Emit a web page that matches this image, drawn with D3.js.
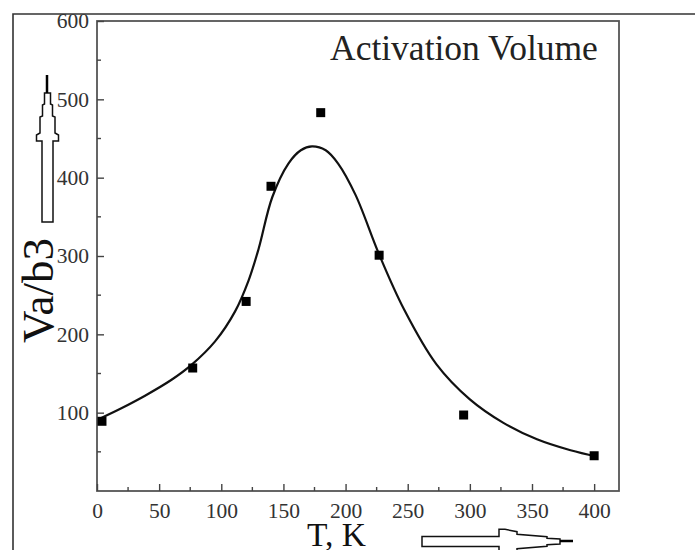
<!DOCTYPE html>
<html>
<head>
<meta charset="utf-8">
<script src="https://cdn.jsdelivr.net/npm/d3@7"></script>
<style>
  html, body { margin: 0; padding: 0; background: #fff; }
  svg { display: block; }
  text { font-family: "Liberation Serif", "Times New Roman", serif; }
</style>
</head>
<body>
<svg id="chart" width="695" height="550"></svg>
<script>
// Measured activation volume (squares)
const tempK = [4, 77, 120, 140, 180, 227, 295, 400];
const volume = [89, 157, 242, 389, 483, 301, 97, 45];

// Smooth fitted trend (solid line)
const fitT = [3, 20, 39, 60, 76, 95, 111, 122, 130, 141, 154, 164, 173, 184, 194, 208, 227, 247, 273, 300, 327, 354, 381, 402];
const fitV = [93, 106, 122, 142, 161, 191, 229, 269, 309, 375, 418, 435, 440, 435, 418, 378, 302, 232, 162, 117, 87, 66, 52, 44];

const xTicks = [0, 50, 100, 150, 200, 250, 300, 350, 400];
const yTicks = [100, 200, 300, 400, 500, 600];

const svg = d3.select("#chart");

const x = d3.scaleLinear().domain([0, 420]).range([97, 619]);
const y = d3.scaleLinear().domain([0, 600]).range([491, 21]);

// outer page frame (top and left edges)
svg.append("path")
  .attr("d", "M13,550 L13,14 L695,14")
  .attr("fill", "none").attr("stroke", "#333").attr("stroke-width", 1.6);

// plot frame
svg.append("rect")
  .attr("x", x(0)).attr("y", y(600))
  .attr("width", x(420) - x(0)).attr("height", y(0) - y(600))
  .attr("fill", "none").attr("stroke", "#555").attr("stroke-width", 1.8);

// bottom axis: inward ticks, majors every 50, minors every 25
const xAxis = d3.axisBottom(x).tickValues(xTicks).tickSize(-7).tickPadding(12).tickFormat(d3.format("d"));
const gx = svg.append("g").attr("transform", `translate(0,${y(0)})`).call(xAxis);
gx.select(".domain").remove();
gx.selectAll(".tick line").attr("stroke", "#444").attr("stroke-width", 1.4);
gx.selectAll(".tick text").attr("font-size", 21.5).attr("fill", "#333")
  .attr("font-family", "Liberation Serif, Times New Roman, serif");
svg.append("g").attr("transform", `translate(0,${y(0)})`)
  .selectAll("line").data(d3.range(25, 420, 50)).join("line")
  .attr("x1", d => x(d)).attr("x2", d => x(d)).attr("y1", 0).attr("y2", -4)
  .attr("stroke", "#444").attr("stroke-width", 1.4);

// left axis
const yAxis = d3.axisLeft(y).tickValues(yTicks).tickSize(-7).tickPadding(8).tickFormat(d3.format("d"));
const gy = svg.append("g").attr("transform", `translate(${x(0)},0)`).call(yAxis);
gy.select(".domain").remove();
gy.selectAll(".tick line").attr("stroke", "#444").attr("stroke-width", 1.4);
gy.selectAll(".tick text").attr("font-size", 21.5).attr("fill", "#333")
  .attr("font-family", "Liberation Serif, Times New Roman, serif");
svg.append("g").attr("transform", `translate(${x(0)},0)`)
  .selectAll("line").data(d3.range(50, 600, 100)).join("line")
  .attr("x1", 0).attr("x2", 4).attr("y1", d => y(d)).attr("y2", d => y(d))
  .attr("stroke", "#444").attr("stroke-width", 1.4);

// fitted curve
const fit = fitT.map((t, i) => [t, fitV[i]]);
svg.append("path")
  .datum(fit)
  .attr("fill", "none").attr("stroke", "#111").attr("stroke-width", 2.2)
  .attr("d", d3.line().x(d => x(d[0])).y(d => y(d[1])).curve(d3.curveCatmullRom.alpha(0.5)));

// data squares
const pts = tempK.map((t, i) => [t, volume[i]]);
const s = 9;
svg.append("g").selectAll("rect").data(pts).join("rect")
  .attr("x", d => x(d[0]) - s / 2).attr("y", d => y(d[1]) - s / 2)
  .attr("width", s).attr("height", s).attr("fill", "#000");

// legend title
svg.append("text").attr("x", 330).attr("y", 60)
  .attr("font-size", 35.5).attr("fill", "#222").text("Activation Volume");

// axis titles
svg.append("text").attr("transform", "translate(53,343) rotate(-90)")
  .attr("font-size", 45).attr("fill", "#111")
  .text("Va/b3");
svg.append("text").attr("x", 307).attr("y", 546)
  .attr("font-size", 33.5).attr("fill", "#111").text("T, K");

// outlined direction arrows with stepped heads
function arrowPath(pts) { return "M" + pts.map(p => p.join(",")).join("L") + "Z"; }

// vertical arrow (up)
const cx = 47.5;
const vSteps = [[222, 5.5], [141, 5.5], [141, 11], [135, 11], [133, 7.5], [117, 7.5], [116, 5], [105, 5], [104, 3], [93, 3]];
const vLeft = vSteps.map(([yy, h]) => [cx - h, yy]);
const vRight = vSteps.slice().reverse().map(([yy, h]) => [cx + h, yy]);
svg.append("path").attr("d", arrowPath(vLeft.concat(vRight)))
  .attr("fill", "#fff").attr("stroke", "#111").attr("stroke-width", 1.5);
svg.append("line").attr("x1", cx - 0.5).attr("x2", cx - 0.5).attr("y1", 93).attr("y2", 75)
  .attr("stroke", "#000").attr("stroke-width", 2.5);

// horizontal arrow (right)
const cy = 541.5;
const hSteps = [[422, 5], [499, 5], [499, 12.2], [505, 12.2], [517, 9.8], [517, 7.2], [547, 4.8], [547, 3.2], [560, 2.5]];
const hTop = hSteps.map(([xx, h]) => [xx, cy - h]);
const hBot = hSteps.slice().reverse().map(([xx, h]) => [xx, cy + h]);
svg.append("path").attr("d", arrowPath(hTop.concat(hBot)))
  .attr("fill", "#fff").attr("stroke", "#111").attr("stroke-width", 1.5);
svg.append("line").attr("x1", 560).attr("x2", 573).attr("y1", cy - 0.5).attr("y2", cy - 0.5)
  .attr("stroke", "#000").attr("stroke-width", 2.5);
</script>
</body>
</html>
